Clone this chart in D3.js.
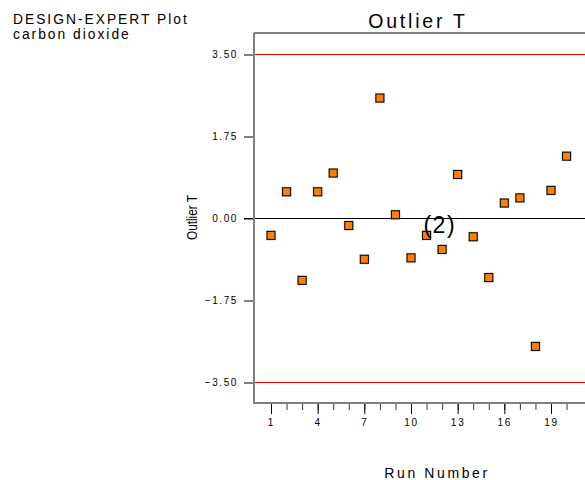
<!DOCTYPE html>
<html>
<head>
<meta charset="utf-8">
<script src="https://cdn.jsdelivr.net/npm/d3@7"></script>
<style>
  html, body { margin: 0; padding: 0; background: #fff; }
  svg { display: block; font-family: "Liberation Sans", Arial, sans-serif; }
</style>
</head>
<body>
<svg id="chart" width="585" height="480"></svg>
<script>
// ---- data ----
const runs = [1,2,3,4,5,6,7,8,9,10,11,12,13,14,15,16,17,18,19,20];
const outlierT = [-0.36,0.57,-1.32,0.57,0.97,-0.15,-0.87,2.57,0.08,-0.84,-0.36,-0.66,0.94,-0.39,-1.26,0.33,0.44,-2.73,0.60,1.33];
const yTicks = [3.50, 1.75, 0.00, -1.75, -3.50];
const xMajorTicks = [1,4,7,10,13,16,19];
const xMinorTicks = [1,2,3,4,5,6,7,8,9,10,11,12,13,14,15,16,17,18,19,20];
const limits = [3.50, -3.50];
const annotation = { text: "(2)", run: 11.85, value: -0.1 };

(function () {
const svg = d3.select("#chart");
const pL = 254, pR = 600, pT = 33, pB = 403;

const x = d3.scaleLinear().domain([1, 19]).range([271, 551]);
const y = d3.scaleLinear().domain([-3.5, 3.5]).range([382.5, 54.5]);

// header text
const hdr = svg.append("g").attr("font-size", 13.8).attr("letter-spacing", 2).attr("fill", "#000");
hdr.append("text").attr("x", 13).attr("y", 23.5).text("DESIGN-EXPERT Plot");
hdr.append("text").attr("x", 13).attr("y", 39).text("carbon dioxide");

// title
svg.append("text").attr("x", 418).attr("y", 27.5).attr("text-anchor", "middle")
  .attr("font-size", 19.5).attr("letter-spacing", 2.8).text("Outlier T");

// top frame line
svg.append("line").attr("x1", pL).attr("x2", pR).attr("y1", pT).attr("y2", pT)
  .attr("stroke", "#000").attr("stroke-width", 1);

// y axis
const yAxis = d3.axisLeft(y).tickValues(yTicks).tickSize(10).tickPadding(6)
  .tickFormat(d3.format(".2f"));
const gy = svg.append("g").attr("transform", `translate(${pL},0)`).call(yAxis);
gy.select(".domain").remove();
gy.selectAll(".tick line").attr("stroke", "#000");
gy.selectAll(".tick text").attr("font-size", 10).attr("letter-spacing", 1.6)
  .attr("font-family", "Liberation Sans, Arial, sans-serif").attr("fill", "#000");

// zero line
svg.append("line").attr("x1", pL - 10).attr("x2", pR).attr("y1", y(0)).attr("y2", y(0))
  .attr("stroke", "#000").attr("stroke-width", 1);

// limit lines
svg.selectAll(".limit").data(limits).enter().append("line")
  .attr("x1", pL).attr("x2", pR).attr("y1", d => y(d)).attr("y2", d => y(d))
  .attr("stroke", "#ff0000").attr("stroke-width", 1.2);

// x axis minor ticks
const xMinor = d3.axisBottom(x).tickValues(xMinorTicks).tickSize(7).tickFormat("");
const gxm = svg.append("g").attr("transform", `translate(0,${pB})`).call(xMinor);
gxm.select(".domain").remove();
gxm.selectAll(".tick line").attr("stroke", "#333");
// x axis major ticks
const xMajor = d3.axisBottom(x).tickValues(xMajorTicks).tickSize(11).tickPadding(5);
const gx = svg.append("g").attr("transform", `translate(0,${pB})`).call(xMajor);
gx.select(".domain").remove();
gx.selectAll(".tick line").attr("stroke", "#000");
gx.selectAll(".tick text").attr("font-size", 10).attr("letter-spacing", 1.8)
  .attr("font-family", "Liberation Sans, Arial, sans-serif").attr("fill", "#000");

// axis frame lines (gray)
svg.append("line").attr("x1", pL).attr("x2", pL).attr("y1", pT).attr("y2", pB + 1)
  .attr("stroke", "#808080").attr("stroke-width", 2);
svg.append("line").attr("x1", pL - 1).attr("x2", pR).attr("y1", pB).attr("y2", pB)
  .attr("stroke", "#808080").attr("stroke-width", 2);

// axis titles
svg.append("text").attr("transform", `translate(197,217.5) rotate(-90)`)
  .attr("text-anchor", "middle").attr("font-size", 15)
  .attr("textLength", 45).attr("lengthAdjust", "spacingAndGlyphs").text("Outlier T");
svg.append("text").attr("x", 437).attr("y", 478).attr("text-anchor", "middle")
  .attr("font-size", 14).attr("letter-spacing", 2.6).text("Run Number");

// points
const pts = runs.map((r, i) => ({ r, v: outlierT[i] }));
const s = 8;
svg.selectAll(".shadow").data(pts).enter().append("rect")
  .attr("x", d => x(d.r) - s / 2 - 1).attr("y", d => y(d.v) - s / 2 - 1)
  .attr("width", s + 2).attr("height", s + 2).attr("fill", "#9a9a9a").attr("opacity", 0.6);
svg.selectAll(".pt").data(pts).enter().append("rect")
  .attr("x", d => x(d.r) - s / 2).attr("y", d => y(d.v) - s / 2)
  .attr("width", s).attr("height", s).attr("fill", "#ff8000")
  .attr("stroke", "#000").attr("stroke-width", 1);

// annotation
svg.append("text").attr("x", x(annotation.run)).attr("y", y(annotation.value) + 10)
  .attr("text-anchor", "middle").attr("font-size", 23).attr("letter-spacing", 1.5)
  .text(annotation.text);
})();
</script>
</body>
</html>
